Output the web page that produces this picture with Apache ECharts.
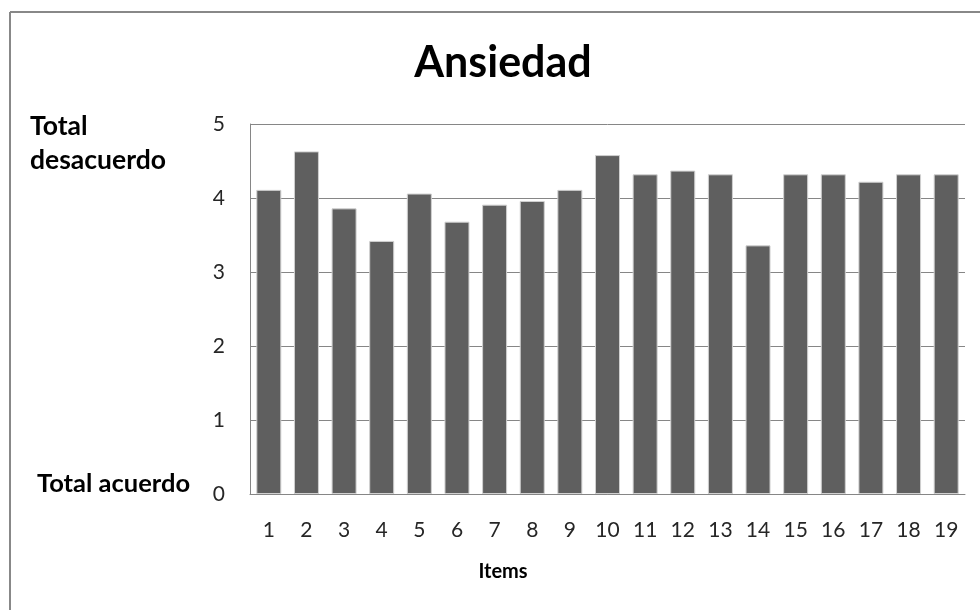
<!DOCTYPE html>
<html>
<head>
<meta charset="utf-8">
<script src="https://cdn.jsdelivr.net/npm/echarts@6/dist/echarts.min.js"></script>
<style>html,body{margin:0;padding:0;background:#fff}#c{width:980px;height:610px}</style>
</head>
<body>
<div id="c"></div>
<script>
var titleText = 'Ansiedad';
var categories = ['1','2','3','4','5','6','7','8','9','10','11','12','13','14','15','16','17','18','19'];
var values = [4.11, 4.63, 3.86, 3.42, 4.06, 3.68, 3.91, 3.96, 4.11, 4.58, 4.32, 4.37, 4.32, 3.36, 4.32, 4.32, 4.22, 4.32, 4.32];
var xAxisName = 'Items';
var topLabel = 'Total\ndesacuerdo';
var bottomLabel = 'Total acuerdo';
var yTicks = [0, 1, 2, 3, 4, 5];

var chart = echarts.init(document.getElementById('c'), null, {renderer: 'canvas'});
var FONT = 'Lato';
var AX = '#868686';
chart.setOption({
  animation: false,
  backgroundColor: '#ffffff',
  grid: {left: 250, right: 15, top: 124, bottom: 116, containLabel: false},
  xAxis: {
    type: 'category',
    data: categories,
    axisLine: {show: true, lineStyle: {color: AX, width: 1}},
    axisTick: {show: false},
    axisLabel: {color: '#262626', fontFamily: FONT, fontSize: 21, margin: 26, interval: 0},
    splitLine: {show: false}
  },
  yAxis: {
    type: 'value',
    min: yTicks[0],
    max: yTicks[yTicks.length - 1],
    interval: 1,
    axisLine: {show: true, lineStyle: {color: AX, width: 1}},
    axisTick: {show: false},
    axisLabel: {color: '#262626', fontFamily: FONT, fontSize: 21, margin: 25},
    splitLine: {show: true, lineStyle: {color: AX, width: 1}}
  },
  series: [{
    type: 'bar',
    data: values,
    barWidth: 25,
    itemStyle: {color: '#5f5f5f', borderColor: '#d0d0d0', borderWidth: 1}
  }],
  graphic: [
    {type: 'line', shape: {x1: 10, y1: 12, x2: 980, y2: 12}, style: {stroke: '#888888', lineWidth: 2}},
    {type: 'line', shape: {x1: 10, y1: 12, x2: 10, y2: 610}, style: {stroke: '#888888', lineWidth: 2}},
    {type: 'text', x: 503, y: 63, style: {text: titleText, fontFamily: FONT, fontWeight: 'bold', fontSize: 43, fill: '#000', textAlign: 'center', textVerticalAlign: 'middle'}},
    {type: 'text', x: 30, y: 143, style: {text: topLabel, fontFamily: FONT, fontWeight: 'bold', fontSize: 26.5, lineHeight: 34, fill: '#000', textAlign: 'left', textVerticalAlign: 'middle'}},
    {type: 'text', x: 37, y: 484, style: {text: bottomLabel, fontFamily: FONT, fontWeight: 'bold', fontSize: 25.5, fill: '#000', textAlign: 'left', textVerticalAlign: 'middle'}},
    {type: 'text', x: 503, y: 572, style: {text: xAxisName, fontFamily: FONT, fontWeight: 'bold', fontSize: 20, fill: '#000', textAlign: 'center', textVerticalAlign: 'middle'}}
  ]
});
</script>
</body>
</html>
